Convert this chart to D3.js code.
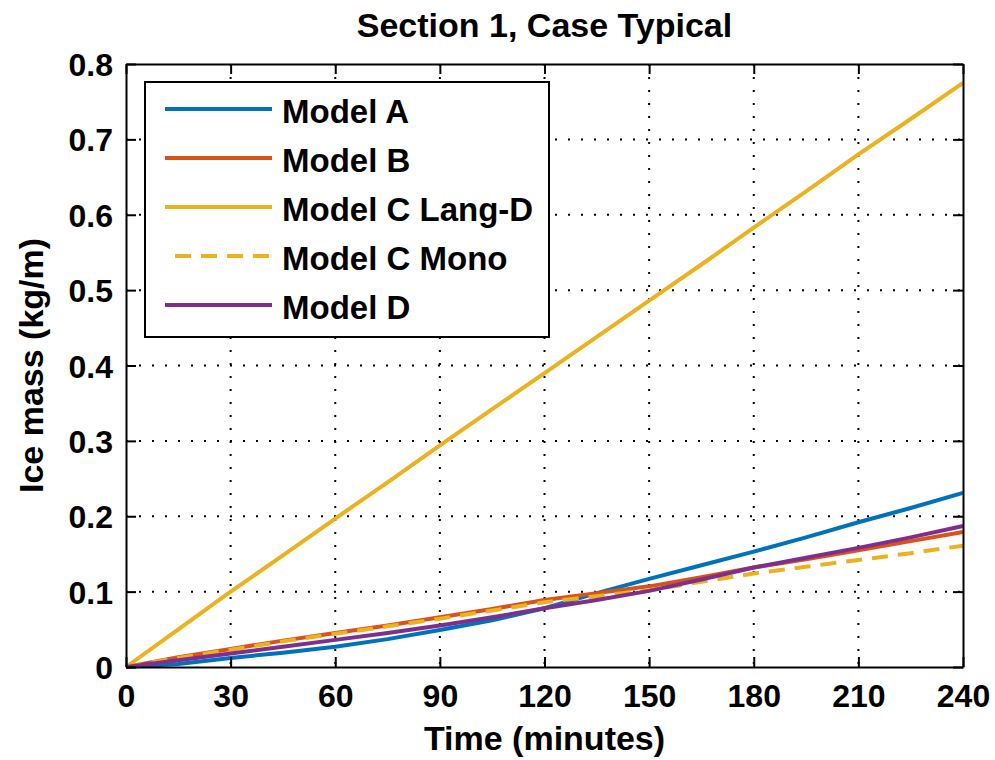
<!DOCTYPE html>
<html>
<head>
<meta charset="utf-8">
<script src="https://cdn.jsdelivr.net/npm/d3@7"></script>
<style>
  body { margin: 0; background: #fff; }
  text { font-family: "Liberation Sans", Arial, sans-serif; font-weight: bold; fill: #000; }
</style>
</head>
<body>
<div id="chart"></div>
<script>
// time in minutes
var times = [0, 15, 30, 45, 60, 75, 90, 105, 120, 135, 150, 165, 180, 195, 210, 225, 240];
// ice mass (kg/m) per model
var modelA = [0, 0.004, 0.012, 0.019, 0.027, 0.037, 0.049, 0.062, 0.078, 0.098, 0.117, 0.135, 0.153, 0.172, 0.192, 0.211, 0.231];
var modelB = [0, 0.013, 0.024, 0.035, 0.045, 0.055, 0.066, 0.077, 0.089, 0.098, 0.107, 0.119, 0.132, 0.143, 0.155, 0.167, 0.179];
var modelCLang = [0, 0.05, 0.1, 0.148, 0.197, 0.245, 0.294, 0.342, 0.39, 0.438, 0.486, 0.534, 0.583, 0.631, 0.68, 0.727, 0.775];
var modelCMono = [0, 0.012, 0.023, 0.034, 0.044, 0.054, 0.064, 0.075, 0.086, 0.094, 0.102, 0.113, 0.124, 0.133, 0.142, 0.151, 0.161];
var modelD = [0, 0.009, 0.018, 0.027, 0.036, 0.045, 0.055, 0.066, 0.078, 0.089, 0.101, 0.116, 0.132, 0.145, 0.158, 0.172, 0.187];

var seriesNames = ["Model A", "Model B", "Model C Lang-D", "Model C Mono", "Model D"];
var xTicks = [0, 30, 60, 90, 120, 150, 180, 210, 240];
var yTicks = [0, 0.1, 0.2, 0.3, 0.4, 0.5, 0.6, 0.7, 0.8];

(function() {
    var colors = ["#0072BD", "#D95319", "#EDB120", "#EDB120", "#7E2F8E"];
    var dashes = [null, null, null, "16,10", null];

    var width = 995, height = 760;
    var pl = 126, pr = 963, pt = 64, pb = 667;

    var svg = d3.select("#chart").append("svg")
        .attr("width", width)
        .attr("height", height);

    var x = d3.scaleLinear().domain([0, 240]).range([pl, pr]);
    var y = d3.scaleLinear().domain([0, 0.8]).range([pb, pt]);

    // dotted grid
    var grid = svg.append("g");
    grid.selectAll("line.gx")
        .data(xTicks.slice(1, -1))
        .enter().append("line")
        .attr("class", "gx")
        .attr("x1", d => x(d)).attr("x2", d => x(d))
        .attr("y1", pt).attr("y2", pb)
        .attr("stroke", "#000").attr("stroke-width", 2)
        .attr("stroke-dasharray", "2,11");
    grid.selectAll("line.gy")
        .data(yTicks.slice(1, -1))
        .enter().append("line")
        .attr("class", "gy")
        .attr("y1", d => y(d)).attr("y2", d => y(d))
        .attr("x1", pl).attr("x2", pr)
        .attr("stroke", "#000").attr("stroke-width", 2)
        .attr("stroke-dasharray", "2,11");

    // lines
    var all = [modelA, modelB, modelCLang, modelCMono, modelD];
    var line = d3.line()
        .x((d, i) => x(times[i]))
        .y(d => y(d));

    svg.append("g").selectAll("path")
        .data(all)
        .enter().append("path")
        .attr("d", line)
        .attr("fill", "none")
        .attr("stroke", (d, i) => colors[i])
        .attr("stroke-width", 4)
        .attr("stroke-dasharray", (d, i) => dashes[i]);

    // axes, ticks pointing inward
    function styleAxis(g) {
        g.select(".domain").attr("stroke", "#000").attr("stroke-width", 2);
        g.selectAll(".tick line").attr("stroke", "#000").attr("stroke-width", 2);
        g.selectAll(".tick text")
            .style("font-family", "'Liberation Sans', Arial, sans-serif")
            .style("font-weight", "bold")
            .style("font-size", "32px")
            .attr("fill", "#000");
    }

    var xAxis = svg.append("g")
        .attr("transform", "translate(0," + pb + ")")
        .call(d3.axisBottom(x).tickValues(xTicks).tickSize(-10).tickSizeOuter(0));
    styleAxis(xAxis);
    xAxis.selectAll(".tick text").attr("y", 40).attr("dy", 0);

    var yAxis = svg.append("g")
        .attr("transform", "translate(" + pl + ",0)")
        .call(d3.axisLeft(y).tickValues(yTicks).tickSize(-10).tickSizeOuter(0)
            .tickFormat(d => d === 0 ? "0" : d3.format(".1f")(d)));
    styleAxis(yAxis);
    yAxis.selectAll(".tick text").attr("x", -13).attr("dy", "0.36em");

    var topAxis = svg.append("g")
        .attr("transform", "translate(0," + pt + ")")
        .call(d3.axisTop(x).tickValues(xTicks).tickSize(-10).tickSizeOuter(0).tickFormat(""));
    styleAxis(topAxis);

    var rightAxis = svg.append("g")
        .attr("transform", "translate(" + pr + ",0)")
        .call(d3.axisRight(y).tickValues(yTicks).tickSize(-10).tickSizeOuter(0).tickFormat(""));
    styleAxis(rightAxis);

    // legend
    var lg = svg.append("g");
    lg.append("rect")
        .attr("x", 145).attr("y", 82)
        .attr("width", 404).attr("height", 255)
        .attr("fill", "#fff")
        .attr("stroke", "#000").attr("stroke-width", 2);

    var rows = lg.selectAll("g.row")
        .data(seriesNames)
        .enter().append("g")
        .attr("class", "row")
        .attr("transform", (d, i) => "translate(0," + (109 + i * 49) + ")");
    rows.append("line")
        .attr("x1", (d, i) => dashes[i] ? 175 : 165).attr("x2", 272)
        .attr("y1", 0).attr("y2", 0)
        .attr("stroke", (d, i) => colors[i])
        .attr("stroke-width", 4)
        .attr("stroke-dasharray", (d, i) => dashes[i]);
    rows.append("text")
        .attr("x", 282).attr("y", 14)
        .style("font-size", "33px")
        .text(d => d);

    // titles
    svg.append("text")
        .attr("x", (pl + pr) / 2).attr("y", 37)
        .attr("text-anchor", "middle")
        .style("font-size", "34px")
        .text("Section 1, Case Typical");

    svg.append("text")
        .attr("x", (pl + pr) / 2).attr("y", 750)
        .attr("text-anchor", "middle")
        .style("font-size", "34px")
        .text("Time (minutes)");

    svg.append("text")
        .attr("transform", "translate(43," + ((pt + pb) / 2) + ") rotate(-90)")
        .attr("text-anchor", "middle")
        .style("font-size", "34px")
        .text("Ice mass (kg/m)");
})();
</script>
</body>
</html>
